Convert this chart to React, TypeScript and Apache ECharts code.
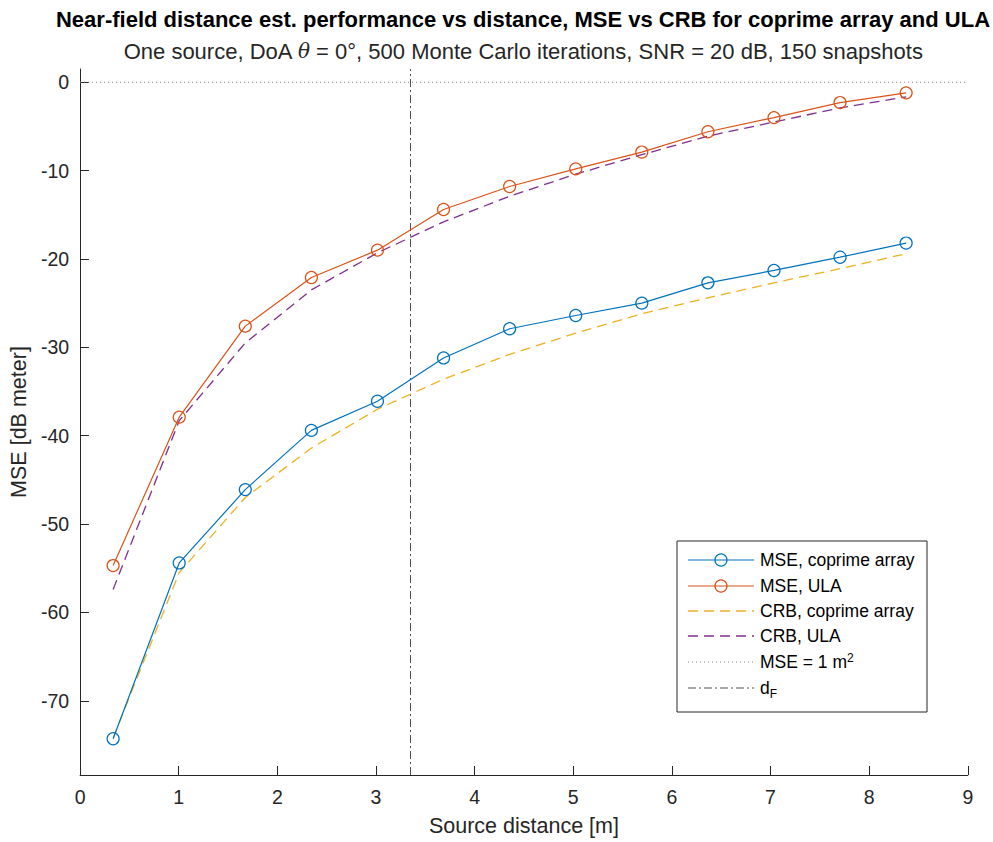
import React, { useEffect, useRef } from "react";
import * as echarts from "echarts";

const DISTANCES = [0.335, 1.005, 1.675, 2.345, 3.015, 3.685, 4.355, 5.025, 5.695, 6.365, 7.035, 7.705, 8.375];
const MSE_COPRIME = [-74.3, -54.4, -46.1, -39.4, -36.1, -31.2, -27.9, -26.4, -25.0, -22.7, -21.3, -19.8, -18.2];
const MSE_ULA = [-54.7, -37.9, -27.6, -22.1, -19.0, -14.4, -11.8, -9.8, -7.9, -5.6, -4.0, -2.3, -1.2];
const CRB_COPRIME = [-74.2, -55.5, -47.0, -41.4, -37.0, -33.6, -30.8, -28.4, -26.2, -24.4, -22.7, -21.1, -19.4];
const CRB_ULA = [-57.4, -38.3, -29.5, -23.5, -19.3, -15.8, -12.9, -10.4, -8.2, -6.1, -4.5, -2.9, -1.65];
const D_F = 3.35;
const MSE_1M2_DB = 0;
const X_MIN = 0;
const X_MAX = 9;
const Y_MIN = -78.4;
const Y_MAX = 1.5;
const Y_TICKS = [-70, -60, -50, -40, -30, -20, -10, 0];

const TITLE = "Near-field distance est. performance vs distance, MSE vs CRB for coprime array and ULA";
const SUBTITLE = "One source, DoA {i|θ} = 0°, 500 Monte Carlo iterations, SNR = 20 dB, 150 snapshots";
const LEGEND_LABELS = ["MSE, coprime array", "MSE, ULA", "CRB, coprime array", "CRB, ULA", "MSE = 1 m{sup|2}", "d{sub|F}"];

const C_BLUE = "#0072BD";
const C_ORANGE = "#D95319";
const C_YELLOW = "#EDB120";
const C_PURPLE = "#7E2F8E";
const C_REF = "#505050";
const C_DOT = "#808080";
const AXIS = "#262626";
const FONT = "'Liberation Sans', Arial, Helvetica, sans-serif";

const TICK_FS = 19.5;
const LABEL_FS = 21.5;
const TITLE_FS = 22;
const LEGEND_FS = 17.5;

const zip = (xs: number[], ys: number[]) => xs.map((x, i) => [x, ys[i]]);

export default function App() {
  const ref = useRef<HTMLDivElement>(null);
  useEffect(() => {
    document.body.style.margin = "0";
    if (!ref.current) return;
    const chart = echarts.init(ref.current, undefined, { renderer: "svg" });
    const dashed = [10, 6];
    const markerSeries = (name: string, color: string, data: number[]) => ({
      name,
      type: "line",
      data: zip(DISTANCES, data),
      symbol: "circle",
      symbolSize: 12,
      lineStyle: { color, width: 1.2 },
      itemStyle: { color: "rgba(0,0,0,0)", borderColor: color, borderWidth: 1.2 },
      z: 3,
    });
    const dashSeries = (name: string, color: string, data: number[]) => ({
      name,
      type: "line",
      data: zip(DISTANCES, data),
      symbol: "none",
      lineStyle: { color, width: 1.3, type: dashed },
      z: 2,
    });

    const LX = 677, LY = 541, LW = 250, LH = 171;
    const rowY = [560, 586, 611, 636, 662, 688];
    const legendItems: any[] = [
      { type: "rect", shape: { x: LX, y: LY, width: LW, height: LH }, style: { fill: "#fff", stroke: AXIS, lineWidth: 1 }, z: 10 },
    ];
    const styles = [
      { color: C_BLUE, dash: null, marker: true, w: 1.2 },
      { color: C_ORANGE, dash: null, marker: true, w: 1.2 },
      { color: C_YELLOW, dash: dashed, marker: false, w: 1.3 },
      { color: C_PURPLE, dash: dashed, marker: false, w: 1.3 },
      { color: C_DOT, dash: [1, 3], marker: false, w: 1 },
      { color: C_REF, dash: [8, 3, 2, 3], marker: false, w: 1 },
    ];
    styles.forEach((s, i) => {
      legendItems.push({
        type: "line",
        shape: { x1: 688, y1: rowY[i], x2: 754, y2: rowY[i] },
        style: { stroke: s.color, lineWidth: s.w, lineDash: s.dash || undefined },
        z: 11,
      });
      if (s.marker) {
        legendItems.push({
          type: "circle",
          shape: { cx: 721, cy: rowY[i], r: 6 },
          style: { fill: "none", stroke: s.color, lineWidth: 1.2 },
          z: 11,
        });
      }
      legendItems.push({
        type: "text",
        x: 760,
        y: rowY[i],
        style: {
          text: LEGEND_LABELS[i],
          fontFamily: FONT,
          fontSize: LEGEND_FS,
          fill: "#000",
          verticalAlign: "middle",
          rich: {
            sup: { fontSize: 12, fontFamily: FONT, fill: "#000", padding: [0, 0, 9, 0] },
            sub: { fontSize: 12, fontFamily: FONT, fill: "#000", padding: [11, 0, 0, 0] },
          },
        },
        z: 12,
      });
    });

    chart.setOption({
      animation: false,
      backgroundColor: "#fff",
      textStyle: { fontFamily: FONT },
      grid: { left: 77.5, right: 25.2, top: 69, bottom: 64.3 },
      xAxis: {
        type: "value",
        min: X_MIN,
        max: X_MAX,
        interval: 1,
        name: "Source distance [m]",
        nameLocation: "middle",
        nameGap: 40,
        nameTextStyle: { color: AXIS, fontSize: LABEL_FS, fontFamily: FONT },
        axisLine: { onZero: false, lineStyle: { color: AXIS, width: 1 } },
        axisTick: { inside: true, length: 9, lineStyle: { color: AXIS } },
        axisLabel: { color: AXIS, fontSize: TICK_FS, margin: 12, fontFamily: FONT },
        splitLine: { show: false },
      },
      yAxis: {
        type: "value",
        min: Y_MIN,
        max: Y_MAX,
        splitNumber: 8,
        name: "MSE [dB meter]",
        nameLocation: "middle",
        nameRotate: 90,
        nameGap: 48,
        nameTextStyle: { color: AXIS, fontSize: LABEL_FS, fontFamily: FONT },
        axisLine: { show: true, onZero: false, lineStyle: { color: AXIS, width: 1 } },
        axisTick: { show: true, inside: true, length: 9, lineStyle: { color: AXIS }, customValues: Y_TICKS },
        axisLabel: { color: AXIS, fontSize: TICK_FS, margin: 11, fontFamily: FONT, customValues: Y_TICKS },
        splitLine: { show: false },
      },
      title: [
        {
          text: TITLE,
          left: 523,
          top: 8,
          padding: 0,
          textAlign: "center",
          textStyle: { fontFamily: FONT, fontSize: TITLE_FS, fontWeight: "bold", color: "#000" },
        },
        {
          text: SUBTITLE,
          left: 523,
          top: 40,
          padding: 0,
          textAlign: "center",
          textStyle: {
            fontFamily: FONT,
            fontSize: TITLE_FS,
            fontWeight: "normal",
            color: "#262626",
            rich: { i: { fontStyle: "italic", fontFamily: "'DejaVu Serif', serif", fontSize: 20, color: "#262626" } },
          },
        },
      ],
      series: [
        markerSeries("MSE, coprime array", C_BLUE, MSE_COPRIME),
        markerSeries("MSE, ULA", C_ORANGE, MSE_ULA),
        dashSeries("CRB, coprime array", C_YELLOW, CRB_COPRIME),
        dashSeries("CRB, ULA", C_PURPLE, CRB_ULA),
        {
          name: "MSE = 1 m2",
          type: "line",
          data: [[X_MIN, MSE_1M2_DB], [X_MAX, MSE_1M2_DB]],
          symbol: "none",
          lineStyle: { color: C_DOT, width: 1, type: [1, 3] },
          z: 1,
        },
        {
          name: "dF",
          type: "line",
          data: [[D_F, Y_MIN], [D_F, Y_MAX]],
          symbol: "none",
          lineStyle: { color: C_REF, width: 1, type: [8, 3, 2, 3] },
          z: 1,
        },
      ],
      graphic: legendItems,
    });
    return () => chart.dispose();
  }, []);
  return <div ref={ref} style={{ width: 993, height: 842 }} />;
}
